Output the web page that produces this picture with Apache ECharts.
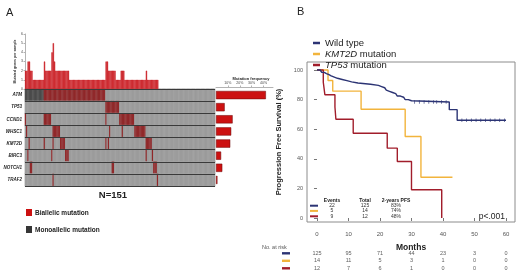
<!DOCTYPE html>
<html>
<head>
<meta charset="utf-8">
<script src="https://cdn.jsdelivr.net/npm/echarts@6/dist/echarts.min.js"></script>
<style>
  html, body { margin: 0; padding: 0; background: #fff; }
  #main { width: 520px; height: 277px; }
</style>
</head>
<body>
<div id="main"></div>
<script>
// ---- panel A data ----
var nSamples = 151;
var genes = ['ATM', 'TP53', 'CCND1', 'WHSC1', 'KMT2D', 'BIRC3', 'NOTCH1', 'TRAF2'];

// mutated genes per sample (samples after the last one are 0)
var genesPerSample = [2, 2, 3, 3, 2, 2, 1, 1, 1, 1, 1, 1, 1, 1, 1, 3, 2, 2, 2, 2, 2, 4, 5, 3,
  2, 2, 2, 2, 2, 2, 2, 2, 2, 2, 2,
  1, 1, 1, 1, 1, 1, 1, 1, 1, 1, 1, 1, 1, 1, 1, 1, 1, 1, 1, 1, 1, 1, 1, 1, 1, 1, 1, 1, 1,
  3, 3, 2, 2, 2, 2, 2, 2, 1, 1, 1, 1, 2, 2, 2,
  1, 1, 1, 1, 1, 1, 1, 1, 1, 1, 1, 1, 1, 1, 1, 1, 1, 2,
  1, 1, 1, 1, 1, 1, 1, 1, 1];

// runs of sample positions [first, last] with a mutation, per gene
var biallelicRuns = {
  ATM: [[15, 63]],
  TP53: [[64, 74]],
  CCND1: [[0, 0], [15, 20], [64, 64], [75, 86]],
  WHSC1: [[1, 1], [22, 27], [67, 67], [77, 77], [87, 95]],
  KMT2D: [[3, 3], [15, 15], [22, 22], [28, 31], [64, 64], [66, 66], [96, 100]],
  BIRC3: [[2, 2], [21, 21], [32, 34], [96, 96], [101, 101]],
  NOTCH1: [[4, 5], [69, 70], [102, 104]],
  TRAF2: [[22, 22], [105, 105]]
};
var monoallelicRuns = {
  ATM: [[0, 14]]
};

// mutation frequency (%)
var mutationFreq = [42, 7.3, 14, 12.8, 12, 4.3, 5.3, 1.2];

// ---- panel B data ----
var kmWild = [[0, 100], [1, 99.2], [1.5, 98.4], [2.3, 97.6], [3, 96.8], [3.8, 96], [4.5, 95.2],
  [5.5, 94.4], [6.5, 93.6], [8, 92.8], [9.5, 92], [11, 91.2], [13, 90.4], [17, 89.6],
  [19.5, 88.8], [20.5, 88], [21.5, 87.2], [22, 86.4], [22.5, 85.6], [23, 84.8], [24, 84],
  [25, 83.2], [25.5, 82.4], [26.5, 81.6], [27.5, 80.8], [28, 80], [29, 79.2], [30, 78.4],
  [42, 73.2], [44.5, 66], [60, 66]];
var kmKmt2d = [[0, 100], [3.5, 92.9], [5, 85.7], [14, 73.5], [28, 55.1], [33, 27.5], [43, 27.5]];
var kmTp53 = [[0, 100], [2, 91.7], [2.5, 83.3], [5.7, 75], [6, 66.7], [11.5, 57.3],
  [22.3, 47.2], [25.5, 38.2], [30, 19.1], [39.6, 0]];
var censorWild = [[31, 78.4], [32.5, 78.4], [34, 78.4], [35.5, 78.4], [37, 78.4], [38, 78.4],
  [39.5, 78.4], [41, 78.4], [46, 66], [47.5, 66], [49, 66], [50.5, 66], [52, 66],
  [53.5, 66], [55, 66], [56.5, 66], [58, 66], [59.5, 66]];

var monthTicks = [0, 10, 20, 30, 40, 50, 60];
var pctTicks = [0, 20, 40, 60, 80, 100];
var riskWild = [125, 95, 71, 44, 23, 3, 0];
var riskKmt2d = [14, 11, 5, 3, 1, 0, 0];
var riskTp53 = [12, 7, 6, 1, 0, 0, 0];

var tableEvents = [22, 5, 9];
var tableTotal = [125, 14, 12];
var tablePfs = ['83%', '74%', '48%'];

var groupNames = ['Wild type', 'KMT2D mutation', 'TP53 mutation'];
var groupColors = ['#2c3474', '#f2b43c', '#a11d2b'];

// ---- build ----
var sampleIds = [];
for (var i = 0; i < nSamples; i++) sampleIds.push('S' + (i + 1));

var cellColors = ['#989898', '#8a0c0e', '#363636'];
var cells = [];
genes.forEach(function (g, gi) {
  var state = [];
  for (var k = 0; k < nSamples; k++) state.push(0);
  (biallelicRuns[g] || []).forEach(function (r) {
    for (var k = r[0]; k <= r[1]; k++) state[k] = 1;
  });
  (monoallelicRuns[g] || []).forEach(function (r) {
    for (var k = r[0]; k <= r[1]; k++) state[k] = 2;
  });
  state.forEach(function (s, k) {
    cells.push({ value: [k, gi, s], itemStyle: { color: cellColors[s] } });
  });
});

var riskCells = [];
[riskWild, riskKmt2d, riskTp53].forEach(function (row, ri) {
  row.forEach(function (v, k) { riskCells.push([monthTicks[k], ri, v]); });
});

var FONT = 'Liberation Sans';
var dom = document.getElementById('main');
var chart = echarts.init(dom, null, { renderer: 'canvas' });

var tableGraphics = [];
var tHead = [['Events', 332], ['Total', 365], ['2-years PFS', 396]];
tHead.forEach(function (h) {
  tableGraphics.push({ type: 'text', x: h[1], y: 200.7, style: { text: h[0], font: 'bold 5px ' + FONT, fill: '#222', align: 'center', verticalAlign: 'middle' } });
});
[205.7, 210.9, 216.3].forEach(function (y, ri) {
  tableGraphics.push({ type: 'rect', shape: { x: 310, y: y - 1, width: 8, height: 2 }, style: { fill: groupColors[ri] } });
  tableGraphics.push({ type: 'text', x: 332, y: y, style: { text: String(tableEvents[ri]), font: '5px ' + FONT, fill: '#333', align: 'center', verticalAlign: 'middle' } });
  tableGraphics.push({ type: 'text', x: 365, y: y, style: { text: String(tableTotal[ri]), font: '5px ' + FONT, fill: '#333', align: 'center', verticalAlign: 'middle' } });
  tableGraphics.push({ type: 'text', x: 396, y: y, style: { text: tablePfs[ri], font: '5px ' + FONT, fill: '#333', align: 'center', verticalAlign: 'middle' } });
});
[253.3, 260.8, 268.3].forEach(function (y, ri) {
  tableGraphics.push({ type: 'rect', shape: { x: 282, y: y - 1.2, width: 8, height: 2.4 }, style: { fill: groupColors[ri] } });
});

var option = {
  backgroundColor: '#fff',
  animation: false,
  textStyle: { fontFamily: FONT },
  legend: {
    data: groupNames,
    orient: 'vertical',
    left: 308,
    top: 33,
    icon: 'rect',
    itemWidth: 7,
    itemHeight: 2.5,
    itemGap: 1,
    textStyle: {
      fontSize: 9.5, color: '#222', lineHeight: 8, fontFamily: FONT,
      rich: { i: { fontStyle: 'italic', fontSize: 9.5, fontFamily: FONT, color: '#222' } }
    },
    formatter: function (name) {
      var p = name.split(' ');
      if (p[0] === 'KMT2D' || p[0] === 'TP53') return '{i|' + p[0] + '} ' + p[1];
      return name;
    }
  },
  grid: [
    { left: 25, top: 34, width: 190, height: 55 },
    { left: 25, top: 89, width: 190, height: 97 },
    { left: 216, top: 89, width: 57, height: 97 },
    { left: 307, top: 62, width: 208, height: 160, show: true, borderColor: '#8c8c8c', borderWidth: 1 },
    { left: 307, top: 249.5, width: 208, height: 22.5 }
  ],
  xAxis: [
    { gridIndex: 0, type: 'category', data: sampleIds, show: false },
    { gridIndex: 1, type: 'category', data: sampleIds, show: false },
    {
      gridIndex: 2, type: 'value', position: 'top', min: 0, max: 48, interval: 10, offset: 2,
      axisLine: { show: true, lineStyle: { color: '#666', width: 0.5 } },
      axisTick: { show: true, length: 1.5, lineStyle: { color: '#666', width: 0.5 } },
      axisLabel: { fontSize: 3.5, color: '#444', margin: 1.5, showMinLabel: false, showMaxLabel: false, formatter: '{value}%' },
      splitLine: { show: false }
    },
    {
      gridIndex: 3, type: 'value', min: -3.17, max: 62.86,
      axisLine: { show: false },
      axisTick: { show: true, length: 3, customValues: monthTicks, lineStyle: { color: '#777' } },
      axisLabel: { fontSize: 6, color: '#555', margin: 9, customValues: monthTicks },
      splitLine: { show: false },
      name: 'Months', nameLocation: 'middle', nameGap: 21,
      nameTextStyle: { fontSize: 8.5, fontWeight: 'bold', color: '#222' }
    },
    { gridIndex: 4, type: 'value', min: -3.17, max: 62.86, show: false }
  ],
  yAxis: [
    {
      gridIndex: 0, type: 'value', min: 0, max: 6, interval: 1,
      axisLine: { show: true, lineStyle: { color: '#666', width: 0.5 } },
      axisTick: { show: true, length: 1.5, lineStyle: { color: '#666', width: 0.5 } },
      axisLabel: { fontSize: 3.5, color: '#444', margin: 2 },
      splitLine: { show: false },
      name: 'Mutated genes per sample', nameLocation: 'middle', nameGap: 8,
      nameTextStyle: { fontSize: 3.5, fontWeight: 'bold', color: '#333' }
    },
    {
      gridIndex: 1, type: 'category', data: genes, inverse: true, z: 10,
      axisLine: { show: false }, axisTick: { show: false },
      axisLabel: { fontSize: 4.5, fontStyle: 'italic', fontWeight: 'bold', color: '#222', margin: 3 },
      splitLine: { show: true, lineStyle: { color: '#3a3a3a', width: 1 } }
    },
    { gridIndex: 2, type: 'category', data: genes, inverse: true, show: false },
    {
      gridIndex: 3, type: 'value', min: -2.7, max: 105.4,
      axisLine: { show: false },
      axisTick: { show: true, length: 3, customValues: pctTicks, lineStyle: { color: '#777' } },
      axisLabel: { fontSize: 5.5, color: '#555', margin: 4, customValues: pctTicks },
      splitLine: { show: false },
      name: 'Progression Free Survival (%)', nameLocation: 'middle', nameGap: 24,
      nameTextStyle: { fontSize: 7.5, fontWeight: 'bold', color: '#222' }
    },
    { gridIndex: 4, type: 'category', data: groupNames, inverse: true, show: false }
  ],
  series: [
    {
      type: 'bar', xAxisIndex: 0, yAxisIndex: 0, data: genesPerSample,
      barWidth: '100%',
      itemStyle: { color: '#c8161d', borderColor: '#c8161d', borderWidth: 0.5 }
    },
    {
      type: 'heatmap', xAxisIndex: 1, yAxisIndex: 1, data: cells,
      itemStyle: { borderColor: '#b2b2b2', borderWidth: 0.25 },
      emphasis: { disabled: true }
    },
    {
      type: 'bar', xAxisIndex: 2, yAxisIndex: 2, data: mutationFreq, barWidth: '68%',
      itemStyle: { color: '#cc1111', borderColor: '#6a0606', borderWidth: 0.5 }
    },
    {
      name: groupNames[0], type: 'line', xAxisIndex: 3, yAxisIndex: 3, data: kmWild, step: 'end',
      showSymbol: false, color: groupColors[0], lineStyle: { width: 1.4, color: groupColors[0] }, z: 4
    },
    {
      name: groupNames[1], type: 'line', xAxisIndex: 3, yAxisIndex: 3, data: kmKmt2d, step: 'end',
      showSymbol: false, color: groupColors[1], lineStyle: { width: 1.4, color: groupColors[1] }, z: 3
    },
    {
      name: groupNames[2], type: 'line', xAxisIndex: 3, yAxisIndex: 3, data: kmTp53, step: 'end',
      showSymbol: false, color: groupColors[2], lineStyle: { width: 1.4, color: groupColors[2] }, z: 3
    },
    {
      type: 'scatter', xAxisIndex: 3, yAxisIndex: 3, data: censorWild,
      symbol: 'rect', symbolSize: [0.8, 3.5], itemStyle: { color: groupColors[0] }, z: 5
    },
    {
      type: 'scatter', xAxisIndex: 4, yAxisIndex: 4, data: riskCells,
      symbolSize: 0.1, itemStyle: { color: 'transparent' },
      label: {
        show: true, position: 'inside', fontSize: 5.5, color: '#333',
        formatter: function (p) { return p.value[2]; }
      }
    }
  ],
  graphic: [
    { type: 'text', left: 6, top: 7, style: { text: 'A', font: '11px ' + FONT, fill: '#222' } },
    { type: 'text', left: 297, top: 6, style: { text: 'B', font: '11px ' + FONT, fill: '#222' } },
    { type: 'text', x: 251, y: 79, style: { text: 'Mutation frequency', font: 'bold 4px ' + FONT, fill: '#222', align: 'center', verticalAlign: 'middle' } },
    { type: 'text', x: 113, y: 195, style: { text: 'N=151', font: 'bold 9.5px ' + FONT, fill: '#222', align: 'center', verticalAlign: 'middle' } },
    { type: 'rect', shape: { x: 26, y: 209, width: 6, height: 7 }, style: { fill: '#cc1111' } },
    { type: 'text', x: 35, y: 213, style: { text: 'Biallelic mutation', font: 'bold 6.5px ' + FONT, fill: '#222', verticalAlign: 'middle' } },
    { type: 'rect', shape: { x: 26, y: 226, width: 6, height: 7 }, style: { fill: '#363636' } },
    { type: 'text', x: 35, y: 230, style: { text: 'Monoallelic mutation', font: 'bold 6.5px ' + FONT, fill: '#222', verticalAlign: 'middle' } },
    { type: 'text', x: 505, y: 217, style: { text: 'p<.001', font: '8.5px ' + FONT, fill: '#222', align: 'right', verticalAlign: 'middle' } },
    { type: 'text', x: 262, y: 247.5, style: { text: 'No. at risk', font: '5.5px ' + FONT, fill: '#555', verticalAlign: 'middle' } }
  ].concat(tableGraphics)
};

chart.setOption(option);
window.addEventListener('resize', chart.resize);
</script>
</body>
</html>
